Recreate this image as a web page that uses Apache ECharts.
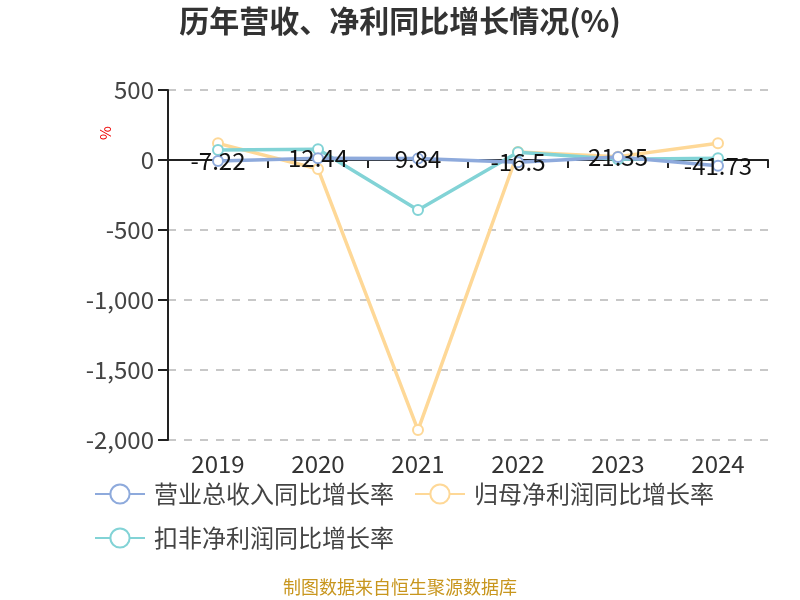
<!DOCTYPE html>
<html><head><meta charset="utf-8">
<script src="https://cdn.jsdelivr.net/npm/echarts@6/dist/echarts.min.js"></script>
<style>html,body{margin:0;padding:0;background:#fff}#c{width:800px;height:600px}</style>
</head><body><div id="c"></div>
<script>
var years = ['2019','2020','2021','2022','2023','2024'];
var revenueGrowth = [-7.22, 12.44, 9.84, -16.5, 21.35, -41.73];
var netProfitGrowth = [119, -64, -1929, 57, 24, 119];
var deductedProfitGrowth = [71, 76, -357, 55, 5, 12];
var yTicks = {min: -2000, max: 500, interval: 500};

var FONT = '"Noto Sans CJK SC", "Noto Sans", sans-serif';
var chart = echarts.init(document.getElementById('c'));
function ser(name, data, color, showLabel) {
  return {
    name: name, type: 'line', data: data, xAxisIndex: 0,
    symbol: 'emptyCircle', symbolSize: 10,
    lineStyle: {width: 3.5, color: color},
    itemStyle: {color: color, borderWidth: 2},
    label: showLabel ? {show: true, position: 'inside', fontSize: 24, color: '#111', fontFamily: FONT} : {show: false},
    z: showLabel ? 3 : 2
  };
}
chart.setOption({
  animation: false,
  title: {text: '历年营收、净利同比增长情况(%)', left: 'center', top: 1,
    textStyle: {fontSize: 30, fontWeight: 'bold', color: '#333', fontFamily: FONT}},
  grid: {left: 168, right: 32, top: 90, bottom: 160},
  legend: {left: 89, top: 477, width: 660, itemWidth: 50, itemHeight: 24, itemGap: 20,
    textStyle: {fontSize: 24, color: '#444', fontFamily: FONT, lineHeight: 24, padding: [0, 0, 0, 4]},
    data: ['营业总收入同比增长率', '归母净利润同比增长率', '扣非净利润同比增长率']},
  xAxis: [
    {type: 'category', data: years, axisLine: {onZero: true, lineStyle: {color: '#222', width: 2}},
     axisTick: {show: true, length: 8, lineStyle: {color: '#222', width: 2}}, axisLabel: {show: false}},
    {type: 'category', data: years, position: 'bottom', axisLine: {show: false}, axisTick: {show: false},
     axisLabel: {fontSize: 24, color: '#333', margin: 12, fontFamily: FONT}}
  ],
  yAxis: {type: 'value', min: yTicks.min, max: yTicks.max, interval: yTicks.interval,
    axisLine: {show: true, lineStyle: {color: '#222', width: 2}},
    axisTick: {show: true, length: 10, lineStyle: {color: '#222', width: 2}},
    axisLabel: {fontSize: 24, color: '#444', margin: 14, fontFamily: FONT,
      formatter: function (v) { return v.toLocaleString('en-US'); }},
    splitLine: {lineStyle: {type: [8, 8], color: '#c8c8c8', width: 2}}},
  series: [
    ser('营业总收入同比增长率', revenueGrowth, '#8eaadc', true),
    ser('归母净利润同比增长率', netProfitGrowth, '#fed897', false),
    ser('扣非净利润同比增长率', deductedProfitGrowth, '#82d3d6', false)
  ],
  graphic: [
    {type: 'text', x: 98, y: 140, rotation: Math.PI / 2,
     style: {text: '%', fontSize: 15, fill: '#e00', fontFamily: FONT}},
    {type: 'text', left: 'center', top: 578,
     style: {text: '制图数据来自恒生聚源数据库', fontSize: 18, fill: '#c8961e', fontFamily: FONT}}]
});
</script></body></html>
